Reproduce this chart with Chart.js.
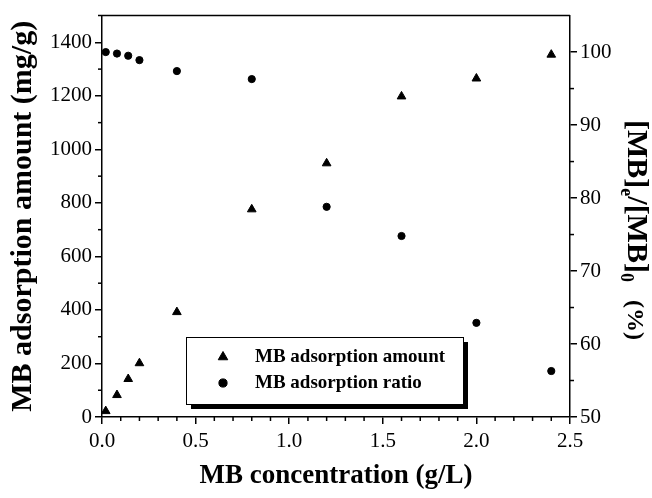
<!DOCTYPE html>
<html>
<head>
<meta charset="utf-8">
<script src="https://cdn.jsdelivr.net/npm/chart.js@4/dist/chart.umd.min.js"></script>
<style>
  html, body { margin: 0; padding: 0; background: #fff; }
  #wrap { width: 652px; height: 498px; position: relative; }
</style>
</head>
<body>
<div id="wrap"><canvas id="c" width="652" height="498"></canvas></div>
<script>
// ---- data ----
const concentration = [0.02, 0.08, 0.14, 0.2, 0.4, 0.8, 1.2, 1.6, 2.0, 2.4];
const adsorptionAmount = [22, 82, 142, 201, 392, 776, 948, 1198, 1265, 1354];
const adsorptionRatio = [100.0, 99.8, 99.5, 98.9, 97.4, 96.3, 78.8, 74.8, 62.9, 56.3];
const seriesLabels = ['MB adsorption amount', 'MB adsorption ratio'];
const xTitle = 'MB concentration (g/L)';
const yTitle = 'MB adsorption amount (mg/g)';
const y1TitleParts = ['[MB]', 'e', '/[MB]', '0', '(%)'];

const SERIF = "'Liberation Serif', 'Times New Roman', serif";
const isMult = (v, m) => Math.abs(v / m - Math.round(v / m)) < 1e-6;

const majorX = v => isMult(v, 0.5);
const majorY = v => isMult(v, 200) && v <= 1400;
const majorY1 = v => isMult(v, 10) && v <= 100;

const minorTicks = {
  id: 'minorTicks',
  afterDraw(chart) {
    const ctx = chart.ctx;
    ctx.save();
    ctx.strokeStyle = '#000';
    ctx.lineWidth = 1.5;
    const L = 4;
    const sx = chart.scales.x, sy = chart.scales.y, sy1 = chart.scales.y1;
    sx.ticks.forEach(t => {
      if (majorX(t.value)) return;
      const p = sx.getPixelForValue(t.value);
      ctx.beginPath(); ctx.moveTo(p, sx.top); ctx.lineTo(p, sx.top + L); ctx.stroke();
    });
    sy.ticks.forEach(t => {
      if (majorY(t.value) || t.value >= 1500) return;
      const p = sy.getPixelForValue(t.value);
      ctx.beginPath(); ctx.moveTo(sy.right, p); ctx.lineTo(sy.right - L, p); ctx.stroke();
    });
    sy1.ticks.forEach(t => {
      if (majorY1(t.value) || t.value >= 105) return;
      const p = sy1.getPixelForValue(t.value);
      ctx.beginPath(); ctx.moveTo(sy1.left, p); ctx.lineTo(sy1.left + L, p); ctx.stroke();
    });
    // top frame line
    const a = chart.chartArea;
    ctx.beginPath(); ctx.moveTo(a.left - 4, a.top); ctx.lineTo(a.right, a.top); ctx.stroke();
    ctx.restore();
  }
};

const rightTitle = {
  id: 'rightTitle',
  afterDraw(chart) {
    const ctx = chart.ctx;
    ctx.save();
    ctx.translate(628, 120);
    ctx.rotate(Math.PI / 2);
    ctx.fillStyle = '#000';
    ctx.textBaseline = 'alphabetic';
    ctx.textAlign = 'left';
    const big = 'bold 30px ' + SERIF, small = 'bold 18px ' + SERIF;
    let x = 0;
    ctx.font = big; ctx.fillText(y1TitleParts[0], x, 0); x += ctx.measureText(y1TitleParts[0]).width;
    ctx.font = small; ctx.fillText(y1TitleParts[1], x, 7); x += ctx.measureText(y1TitleParts[1]).width;
    ctx.font = big; ctx.fillText(y1TitleParts[2], x, 0); x += ctx.measureText(y1TitleParts[2]).width;
    ctx.font = small; ctx.fillText(y1TitleParts[3], x, 7); x += ctx.measureText(y1TitleParts[3]).width;
    ctx.font = 'bold 24px ' + SERIF; ctx.fillText(y1TitleParts[4], 180, 0);
    ctx.restore();
  }
};

const boxLegend = {
  id: 'boxLegend',
  afterDraw(chart) {
    const ctx = chart.ctx;
    ctx.save();
    const bx = 186, by = 337, bw = 277, bh = 67, off = 5;
    ctx.fillStyle = '#000';
    ctx.fillRect(bx + off, by + off, bw, bh);
    ctx.fillStyle = '#fff';
    ctx.fillRect(bx, by, bw, bh);
    ctx.strokeStyle = '#000';
    ctx.lineWidth = 1;
    ctx.strokeRect(bx + 0.5, by + 0.5, bw, bh);
    const rows = [357, 383];
    chart.data.datasets.forEach((ds, i) => {
      const y = rows[i];
      ctx.fillStyle = '#000';
      ctx.strokeStyle = '#000';
      ctx.lineWidth = 1;
      if (Chart.helpers && Chart.helpers.drawPoint) {
        Chart.helpers.drawPoint(ctx, { pointStyle: ds.pointStyle, radius: ds.pointRadius + 0.5, borderWidth: 1, rotation: 0 }, 223, y);
      }
      ctx.font = 'bold 19px ' + SERIF;
      ctx.textBaseline = 'middle';
      ctx.textAlign = 'left';
      ctx.fillStyle = '#000';
      ctx.fillText(ds.label, 255, y);
    });
    ctx.restore();
  }
};

new Chart(document.getElementById('c'), {
  type: 'scatter',
  data: {
    datasets: [
      {
        label: seriesLabels[0],
        data: concentration.map((x, i) => ({ x, y: adsorptionAmount[i] })),
        yAxisID: 'y',
        pointStyle: 'triangle',
        pointRadius: 5,
        pointBackgroundColor: '#000',
        pointBorderColor: '#000',
        pointBorderWidth: 1
      },
      {
        label: seriesLabels[1],
        data: concentration.map((x, i) => ({ x, y: adsorptionRatio[i] })),
        yAxisID: 'y1',
        pointStyle: 'circle',
        pointRadius: 3.6,
        pointBackgroundColor: '#000',
        pointBorderColor: '#000',
        pointBorderWidth: 1
      }
    ]
  },
  options: {
    responsive: false,
    animation: false,
    layout: { padding: { top: 15, left: 0, right: 0, bottom: 0 } },
    plugins: { legend: { display: false }, tooltip: { enabled: false } },
    scales: {
      x: {
        type: 'linear', min: 0, max: 2.5,
        afterFit: s => { s.height = 81; },
        border: { display: true, color: '#000', width: 1.5 },
        grid: { drawOnChartArea: false, drawTicks: true, tickLength: 7, lineWidth: 1.5,
                tickColor: c => (c.tick && majorX(c.tick.value)) ? '#000' : 'rgba(0,0,0,0)' },
        ticks: { stepSize: 0.1, autoSkip: false, maxRotation: 0, padding: 5, color: '#000',
                 font: { family: SERIF, size: 21 },
                 callback: v => majorX(v) ? v.toFixed(1) : '' },
        title: { display: true, text: xTitle, color: '#000', padding: { top: 0, bottom: 6 },
                 font: { family: SERIF, size: 27, weight: 'bold' } }
      },
      y: {
        type: 'linear', position: 'left', min: 0, max: 1500,
        afterFit: s => { s.width = 102; },
        border: { display: true, color: '#000', width: 1.5 },
        grid: { drawOnChartArea: false, drawTicks: true, tickLength: 7, lineWidth: 1.5,
                tickColor: c => (c.tick && majorY(c.tick.value)) ? '#000' : 'rgba(0,0,0,0)' },
        ticks: { stepSize: 100, autoSkip: false, padding: 3, color: '#000',
                 font: { family: SERIF, size: 21 },
                 callback: v => majorY(v) ? String(v) : '' },
        title: { display: true, text: yTitle, color: '#000', padding: { top: 5, bottom: 0 },
                 font: { family: SERIF, size: 30, weight: 'bold' } }
      },
      y1: {
        type: 'linear', position: 'right', min: 50, max: 105,
        afterFit: s => { s.width = 82; },
        border: { display: true, color: '#000', width: 1.5 },
        grid: { drawOnChartArea: false, drawTicks: true, tickLength: 7, lineWidth: 1.5,
                tickColor: c => (c.tick && majorY1(c.tick.value)) ? '#000' : 'rgba(0,0,0,0)' },
        ticks: { stepSize: 5, autoSkip: false, padding: 3, color: '#000',
                 font: { family: SERIF, size: 21 },
                 callback: v => majorY1(v) ? String(v) : '' },
        title: { display: false }
      }
    }
  },
  plugins: [minorTicks, rightTitle, boxLegend]
});
</script>
</body>
</html>
